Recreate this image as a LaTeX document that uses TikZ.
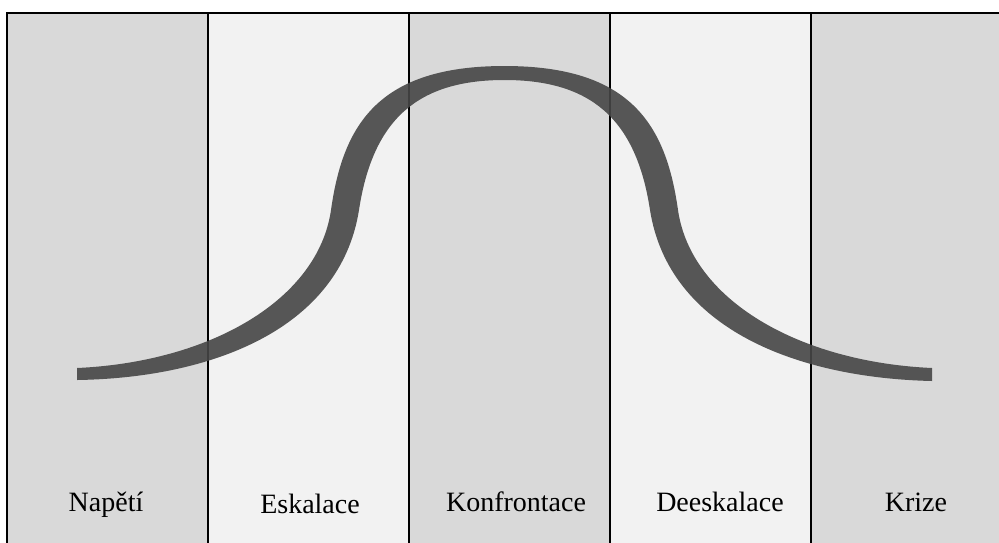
\documentclass[tikz,border=0pt]{standalone}
\usepackage{fontspec}
\setmainfont{Liberation Serif}
\definecolor{colA}{HTML}{D9D9D9}
\definecolor{colB}{HTML}{F2F2F2}
\definecolor{stroke}{HTML}{464646}
\begin{document}
\begin{tikzpicture}[x=1pt,y=-1pt,
  sep/.style={draw=black,line width=1.8pt},
  lbl/.style={anchor=base,inner sep=0pt,font=\fontsize{28}{32}\selectfont},
  brush/.style={fill=stroke,fill opacity=0.9,draw=none}]
\useasboundingbox (0,0) rectangle (999,542);
\clip (0,0) rectangle (999,542);
\fill[white] (0,0) rectangle (999,542);
% columns
\fill[colA] (7,13) rectangle (208,560);
\fill[colB] (208,13) rectangle (409,560);
\fill[colA] (409,13) rectangle (610,560);
\fill[colB] (610,13) rectangle (811,560);
\fill[colA] (811,13) rectangle (1030,560);
\draw[sep] (7,560) -- (7,13) -- (1030,13);
\foreach \x in {208,409,610,811} \draw[sep] (\x,13) -- (\x,560);
% curve (variable-width brush stroke)
\fill[brush]
  (77,368) .. controls (210,362) and (318,300) .. (331,210)
  .. controls (343,125) and (378,66) .. (504.5,66)
  .. controls (631,66) and (666,125) .. (678,210)
  .. controls (691,300) and (799,362) .. (932,368)
  -- (932,381)
  .. controls (799,378) and (669,330) .. (650,210)
  .. controls (636,118) and (590,80) .. (504.5,80)
  .. controls (419,80) and (373,118) .. (359,210)
  .. controls (340,330) and (210,378) .. (77,380)
  -- cycle;
% labels
\node[lbl] (n1) at (106,511) {Napětí};
\node[lbl] (n2) at (310,513) {Eskalace};
\node[lbl] (n3) at (516,511) {Konfrontace};
\node[lbl] (n4) at (720,511) {Deeskalace};
\node[lbl] (n5) at (916,511) {Krize};
\end{tikzpicture}
\end{document}
